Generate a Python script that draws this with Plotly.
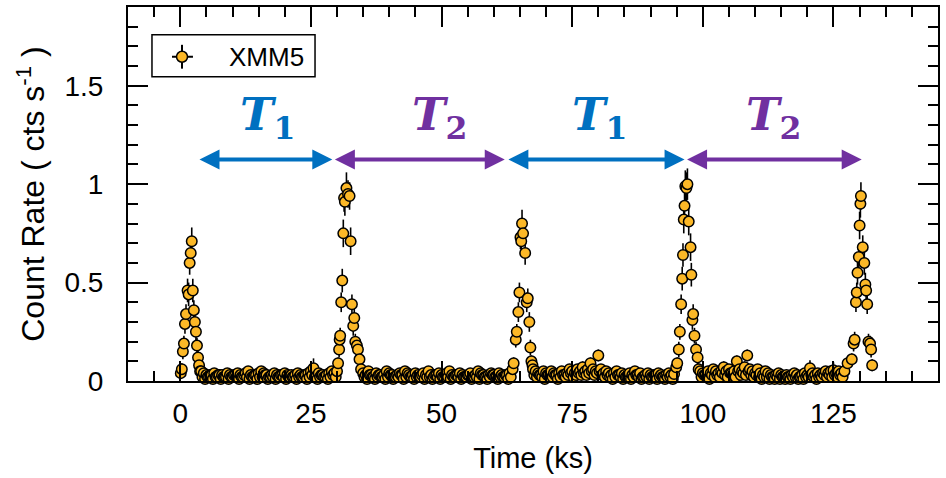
import plotly.graph_objects as go

# ---------------- data (time in ks, count rate in cts/s, 1-sigma error) ----------------
# flare segments
f1_t = [0.1, 0.3, 0.5, 0.7, 0.9, 1.1, 1.4, 1.6, 1.8, 2.0, 2.2, 2.4, 2.6, 2.8, 3.0, 3.2, 3.4, 3.6, 3.8]
f1_r = [0.04, 0.06, 0.15, 0.19, 0.29, 0.34, 0.46, 0.44, 0.60, 0.65, 0.71, 0.46, 0.36, 0.30, 0.25, 0.18, 0.12, 0.08, 0.05]
f1_e = [0.03, 0.03, 0.04, 0.04, 0.05, 0.05, 0.06, 0.06, 0.06, 0.06, 0.07, 0.06, 0.05, 0.05, 0.05, 0.04, 0.04, 0.03, 0.03]

f2_t = [30.0, 30.2, 30.4, 30.5, 30.6, 30.8, 31.0, 31.2, 31.35, 31.5, 31.8, 32.1, 32.4, 32.6, 32.85, 33.1, 33.3, 33.5, 33.8, 34.0, 34.3, 34.6]
f2_r = [0.05, 0.09, 0.16, 0.21, 0.23, 0.40, 0.51, 0.75, 0.93, 0.91, 0.98, 0.95, 0.94, 0.71, 0.39, 0.28, 0.32, 0.20, 0.18, 0.16, 0.11, 0.06]
f2_e = [0.03, 0.03, 0.04, 0.04, 0.04, 0.05, 0.06, 0.07, 0.07, 0.07, 0.08, 0.07, 0.07, 0.07, 0.05, 0.05, 0.05, 0.04, 0.04, 0.04, 0.03, 0.03]

f3_t = [63.6, 63.8, 64.2, 64.4, 64.7, 64.9, 65.1, 65.25, 65.4, 65.6, 66.0, 66.3, 66.5, 66.8, 67.0, 67.2, 67.4]
f3_r = [0.06, 0.09, 0.21, 0.25, 0.35, 0.45, 0.73, 0.71, 0.80, 0.75, 0.65, 0.40, 0.42, 0.30, 0.17, 0.10, 0.08]
f3_e = [0.03, 0.03, 0.04, 0.04, 0.05, 0.05, 0.06, 0.06, 0.07, 0.06, 0.06, 0.05, 0.05, 0.05, 0.04, 0.03, 0.03]

f4_t = [94.5, 94.9, 95.1, 95.4, 95.6, 95.85, 96.05, 96.2, 96.35, 96.5, 96.65, 96.85, 97.05, 97.3, 97.65, 97.8, 98.0, 98.15, 98.4, 98.7, 99.0, 99.2]
f4_r = [0.035, 0.07, 0.09, 0.16, 0.25, 0.39, 0.52, 0.64, 0.82, 0.89, 0.99, 0.98, 1.00, 0.81, 0.68, 0.54, 0.31, 0.34, 0.23, 0.16, 0.12, 0.06]
f4_e = [0.02, 0.03, 0.03, 0.04, 0.04, 0.05, 0.06, 0.06, 0.07, 0.07, 0.08, 0.08, 0.08, 0.07, 0.07, 0.06, 0.05, 0.05, 0.04, 0.04, 0.04, 0.03]

f5_t = [127.1, 127.7, 128.5, 128.85, 129.05, 129.3, 129.45, 129.6, 129.85, 130.0, 130.15, 130.25, 130.6, 130.9, 131.1, 131.25, 131.45, 131.7, 132.0, 132.2, 132.4]
f5_r = [0.05, 0.09, 0.11, 0.19, 0.21, 0.40, 0.45, 0.55, 0.63, 0.79, 0.90, 0.94, 0.68, 0.60, 0.49, 0.46, 0.39, 0.20, 0.19, 0.16, 0.08]
f5_e = [0.03, 0.03, 0.03, 0.04, 0.04, 0.05, 0.05, 0.06, 0.06, 0.07, 0.07, 0.07, 0.06, 0.06, 0.06, 0.05, 0.05, 0.04, 0.04, 0.04, 0.03]

# quiescent segments, 0.5 ks bins starting at the given time
bin_ks = 0.5
q1_start = 4.0
q1_r = [0.05, 0.04, 0.03, 0.02, 0.03, 0.04, 0.02, 0.03, 0.03, 0.02,
        0.04, 0.03, 0.02, 0.03, 0.04, 0.03, 0.02, 0.04, 0.05, 0.03,
        0.02, 0.03, 0.04, 0.05, 0.04, 0.03, 0.02, 0.03, 0.04, 0.03,
        0.02, 0.03, 0.04, 0.03, 0.02, 0.02, 0.03, 0.04, 0.03, 0.02,
        0.03, 0.04, 0.05, 0.065, 0.02, 0.04, 0.03, 0.02, 0.03, 0.04,
        0.05, 0.04]
q1_e = [0.02, 0.02, 0.02, 0.015, 0.02, 0.02, 0.015, 0.02, 0.02, 0.015,
        0.02, 0.02, 0.015, 0.02, 0.02, 0.02, 0.015, 0.02, 0.02, 0.02,
        0.015, 0.02, 0.02, 0.02, 0.02, 0.02, 0.015, 0.02, 0.02, 0.02,
        0.015, 0.02, 0.02, 0.02, 0.015, 0.015, 0.02, 0.02, 0.02, 0.015,
        0.02, 0.02, 0.02, 0.05, 0.015, 0.02, 0.02, 0.015, 0.02, 0.02,
        0.02, 0.02]
q1b_start = 4.25
q1b_r = [0.02, 0.01, 0.02, 0.03, 0.01, 0.02, 0.03, 0.01, 0.02, 0.02,
         0.01, 0.02, 0.03, 0.02, 0.01, 0.02, 0.03, 0.02, 0.01, 0.02,
         0.03, 0.01, 0.02, 0.02, 0.03, 0.01, 0.02, 0.02, 0.01, 0.02,
         0.03, 0.02, 0.01, 0.02, 0.03, 0.02, 0.01, 0.02, 0.02, 0.03,
         0.01, 0.02, 0.03, 0.02, 0.01, 0.02, 0.03, 0.02, 0.01, 0.02,
         0.03, 0.02]
q1b_e = [0.015, 0.01, 0.015, 0.015, 0.01, 0.015, 0.015, 0.01, 0.015, 0.015,
         0.01, 0.015, 0.015, 0.015, 0.01, 0.015, 0.015, 0.015, 0.01, 0.015,
         0.015, 0.01, 0.015, 0.015, 0.015, 0.01, 0.015, 0.015, 0.01, 0.015,
         0.015, 0.015, 0.01, 0.015, 0.015, 0.015, 0.01, 0.015, 0.015, 0.015,
         0.01, 0.015, 0.015, 0.015, 0.01, 0.015, 0.015, 0.015, 0.01, 0.015,
         0.015, 0.015]

q2_start = 35.0
q2_r = [0.04, 0.03, 0.05, 0.03, 0.02, 0.04, 0.03, 0.02, 0.03, 0.05,
        0.04, 0.03, 0.02, 0.03, 0.04, 0.03, 0.05, 0.04, 0.02, 0.03,
        0.04, 0.03, 0.02, 0.04, 0.03, 0.05, 0.03, 0.02, 0.03, 0.04,
        0.03, 0.02, 0.04, 0.05, 0.03, 0.02, 0.03, 0.04, 0.03, 0.02,
        0.03, 0.04, 0.02, 0.03, 0.05, 0.04, 0.03, 0.02, 0.03, 0.04,
        0.03, 0.02, 0.04, 0.03, 0.02, 0.03, 0.04]
q2_e = [0.02, 0.02, 0.02, 0.02, 0.015, 0.02, 0.02, 0.015, 0.02, 0.02,
        0.02, 0.02, 0.015, 0.02, 0.02, 0.02, 0.02, 0.02, 0.015, 0.02,
        0.02, 0.02, 0.015, 0.02, 0.02, 0.02, 0.02, 0.015, 0.02, 0.02,
        0.02, 0.015, 0.02, 0.02, 0.02, 0.015, 0.02, 0.02, 0.02, 0.015,
        0.02, 0.02, 0.015, 0.02, 0.02, 0.02, 0.02, 0.015, 0.02, 0.02,
        0.02, 0.015, 0.02, 0.02, 0.015, 0.02, 0.02]
q2b_start = 35.25
q2b_r = [0.02, 0.01, 0.03, 0.02, 0.01, 0.02, 0.03, 0.02, 0.01, 0.02,
         0.03, 0.01, 0.02, 0.02, 0.03, 0.01, 0.02, 0.03, 0.02, 0.01,
         0.02, 0.02, 0.03, 0.01, 0.02, 0.02, 0.01, 0.03, 0.02, 0.01,
         0.02, 0.03, 0.02, 0.01, 0.02, 0.03, 0.02, 0.01, 0.02, 0.02,
         0.03, 0.01, 0.02, 0.02, 0.01, 0.03, 0.02, 0.01, 0.02, 0.03,
         0.02, 0.01, 0.02, 0.02, 0.03, 0.01, 0.02]
q2b_e = [0.015, 0.01, 0.015, 0.015, 0.01, 0.015, 0.015, 0.015, 0.01, 0.015,
         0.015, 0.01, 0.015, 0.015, 0.015, 0.01, 0.015, 0.015, 0.015, 0.01,
         0.015, 0.015, 0.015, 0.01, 0.015, 0.015, 0.01, 0.015, 0.015, 0.01,
         0.015, 0.015, 0.015, 0.01, 0.015, 0.015, 0.015, 0.01, 0.015, 0.015,
         0.015, 0.01, 0.015, 0.015, 0.01, 0.015, 0.015, 0.01, 0.015, 0.015,
         0.015, 0.01, 0.015, 0.015, 0.015, 0.01, 0.015]

q3_start = 67.5
q3_r = [0.06, 0.05, 0.04, 0.03, 0.05, 0.04, 0.03, 0.05, 0.04, 0.03,
        0.04, 0.05, 0.03, 0.04, 0.06, 0.05, 0.04, 0.06, 0.05, 0.07,
        0.05, 0.06, 0.09, 0.06, 0.05, 0.13, 0.06, 0.04, 0.05, 0.04,
        0.03, 0.04, 0.05, 0.03, 0.04, 0.03, 0.02, 0.04, 0.03, 0.05,
        0.03, 0.04, 0.02, 0.03, 0.04, 0.03, 0.02, 0.03, 0.04, 0.03,
        0.02, 0.03, 0.04, 0.03]
q3_e = [0.02, 0.02, 0.02, 0.02, 0.02, 0.02, 0.02, 0.02, 0.02, 0.02,
        0.02, 0.02, 0.02, 0.02, 0.02, 0.02, 0.02, 0.02, 0.02, 0.03,
        0.02, 0.02, 0.03, 0.02, 0.02, 0.03, 0.02, 0.02, 0.02, 0.02,
        0.02, 0.02, 0.02, 0.02, 0.02, 0.02, 0.015, 0.02, 0.02, 0.02,
        0.02, 0.02, 0.015, 0.02, 0.02, 0.02, 0.015, 0.02, 0.02, 0.02,
        0.015, 0.02, 0.02, 0.02]
q3b_start = 67.75
q3b_r = [0.03, 0.02, 0.03, 0.02, 0.01, 0.03, 0.02, 0.02, 0.03, 0.01,
         0.02, 0.03, 0.02, 0.03, 0.04, 0.02, 0.03, 0.04, 0.03, 0.04,
         0.03, 0.04, 0.05, 0.03, 0.04, 0.05, 0.03, 0.02, 0.03, 0.02,
         0.01, 0.02, 0.03, 0.02, 0.01, 0.02, 0.02, 0.01, 0.02, 0.03,
         0.02, 0.01, 0.02, 0.02, 0.01, 0.02, 0.03, 0.01, 0.02, 0.02,
         0.01, 0.02, 0.02, 0.01]
q3b_e = [0.015, 0.015, 0.015, 0.015, 0.01, 0.015, 0.015, 0.015, 0.015, 0.01,
         0.015, 0.015, 0.015, 0.015, 0.02, 0.015, 0.015, 0.02, 0.015, 0.02,
         0.015, 0.02, 0.02, 0.015, 0.02, 0.02, 0.015, 0.015, 0.015, 0.015,
         0.01, 0.015, 0.015, 0.015, 0.01, 0.015, 0.015, 0.01, 0.015, 0.015,
         0.015, 0.01, 0.015, 0.015, 0.01, 0.015, 0.015, 0.01, 0.015, 0.015,
         0.01, 0.015, 0.015, 0.01]

q4_start = 99.5
q4_r = [0.05, 0.04, 0.03, 0.05, 0.04, 0.06, 0.05, 0.04, 0.05, 0.07,
        0.05, 0.06, 0.04, 0.05, 0.10, 0.06, 0.05, 0.07, 0.13, 0.06,
        0.05, 0.04, 0.06, 0.04, 0.03, 0.05, 0.04, 0.03, 0.02, 0.03,
        0.04, 0.03, 0.02, 0.03, 0.02, 0.03, 0.04, 0.03, 0.02, 0.03,
        0.04, 0.03, 0.065, 0.04, 0.03, 0.04, 0.03, 0.04, 0.05, 0.04,
        0.05, 0.055, 0.04, 0.05, 0.04]
q4_e = [0.02, 0.02, 0.02, 0.02, 0.02, 0.02, 0.02, 0.02, 0.02, 0.03,
        0.02, 0.02, 0.02, 0.02, 0.03, 0.02, 0.02, 0.03, 0.03, 0.02,
        0.02, 0.02, 0.02, 0.02, 0.02, 0.02, 0.02, 0.02, 0.015, 0.02,
        0.02, 0.02, 0.015, 0.02, 0.015, 0.02, 0.02, 0.02, 0.015, 0.02,
        0.02, 0.02, 0.04, 0.02, 0.02, 0.02, 0.02, 0.02, 0.02, 0.02,
        0.02, 0.04, 0.02, 0.02, 0.02]
q4b_start = 99.75
q4b_r = [0.02, 0.03, 0.02, 0.01, 0.03, 0.02, 0.03, 0.02, 0.04, 0.03,
         0.02, 0.04, 0.03, 0.02, 0.05, 0.03, 0.04, 0.03, 0.05, 0.03,
         0.02, 0.03, 0.02, 0.01, 0.02, 0.02, 0.01, 0.02, 0.01, 0.02,
         0.01, 0.02, 0.01, 0.02, 0.01, 0.02, 0.02, 0.01, 0.02, 0.01,
         0.02, 0.02, 0.03, 0.02, 0.01, 0.02, 0.02, 0.03, 0.02, 0.03,
         0.02, 0.03, 0.02, 0.03, 0.02]
q4b_e = [0.015, 0.015, 0.015, 0.01, 0.015, 0.015, 0.015, 0.015, 0.02, 0.015,
         0.015, 0.02, 0.015, 0.015, 0.02, 0.015, 0.02, 0.015, 0.02, 0.015,
         0.015, 0.015, 0.015, 0.01, 0.015, 0.015, 0.01, 0.015, 0.01, 0.015,
         0.01, 0.015, 0.01, 0.015, 0.01, 0.015, 0.015, 0.01, 0.015, 0.01,
         0.015, 0.015, 0.015, 0.015, 0.01, 0.015, 0.015, 0.015, 0.015, 0.015,
         0.015, 0.015, 0.015, 0.015, 0.015]

series_name = "XMM5"

# period markers: (arrow start ks, arrow end ks, label centre ks, subscript, colour)
periods = [(3.4, 29.1, 16.6, "1", "#0070C0"),
           (29.3, 62.1, 49.7, "2", "#7030A0"),
           (62.5, 96.5, 80.3, "1", "#0070C0"),
           (96.7, 130.4, 113.6, "2", "#7030A0")]

# ---------------- assemble ----------------
t_all, r_all, e_all = [], [], []
for ft, fr, fe in [(f1_t, f1_r, f1_e), (f2_t, f2_r, f2_e), (f3_t, f3_r, f3_e),
                   (f4_t, f4_r, f4_e), (f5_t, f5_r, f5_e)]:
    assert len(ft) == len(fr) == len(fe)
    t_all += ft; r_all += fr; e_all += fe
for start, qr, qe in [(q1_start, q1_r, q1_e), (q2_start, q2_r, q2_e),
                      (q3_start, q3_r, q3_e), (q4_start, q4_r, q4_e),
                      (q1b_start, q1b_r, q1b_e), (q2b_start, q2b_r, q2b_e),
                      (q3b_start, q3b_r, q3b_e), (q4b_start, q4b_r, q4b_e)]:
    assert len(qr) == len(qe)
    t_all += [start + bin_ks * i for i in range(len(qr))]
    r_all += qr; e_all += qe

order = sorted(range(len(t_all)), key=lambda i: t_all[i])
t_all = [t_all[i] for i in order]
r_all = [r_all[i] for i in order]
e_all = [e_all[i] for i in order]

MARK = "#FCB827"
fig = go.Figure()
fig.add_trace(go.Scatter(
    x=t_all, y=r_all, mode="markers", name=series_name,
    error_y=dict(type="data", array=e_all, color="black", thickness=1.6, width=0),
    marker=dict(size=10.5, color=MARK, line=dict(color="black", width=1.5)),
    cliponaxis=False, showlegend=False,
))

ann = []
shapes = []
for x0, x1, xl, sub, col in periods:
    ann.append(dict(x=x1, y=1.125, ax=x0, ay=1.125, xref="x", yref="y", axref="x", ayref="y",
                    text="", showarrow=True, arrowhead=2, startarrowhead=2, arrowside="end+start",
                    arrowwidth=4, arrowsize=1, startarrowsize=1, arrowcolor=col,
                    standoff=0, startstandoff=0))
    ann.append(dict(x=xl, y=1.34, xref="x", yref="y", showarrow=False,
                    text="<b><i>T</i><sub>%s</sub></b>" % sub,
                    font=dict(family="DejaVu Serif", size=45, color=col),
                    xanchor="center", yanchor="middle"))

# legend (custom box with error-bar cross symbol)
shapes.append(dict(type="rect", xref="paper", yref="paper", x0=0.0296, x1=0.2309, y0=0.8138, y1=0.9255,
                   line=dict(color="black", width=1.5), fillcolor="white", layer="above"))
shapes.append(dict(type="line", xref="paper", yref="paper", x0=0.0543, x1=0.0802, y0=0.867, y1=0.867,
                   line=dict(color="black", width=2), layer="above"))
shapes.append(dict(type="line", xref="paper", yref="paper", x0=0.0667, x1=0.0667, y0=0.8351, y1=0.8989,
                   line=dict(color="black", width=2), layer="above"))
shapes.append(dict(type="circle", xref="paper", yref="paper", xsizemode="pixel", ysizemode="pixel",
                   xanchor=0.0667, yanchor=0.867, x0=-5.5, x1=5.5, y0=-5.5, y1=5.5,
                   fillcolor=MARK, line=dict(color="black", width=1.5), layer="above"))
ann.append(dict(x=0.1222, y=0.867, xref="paper", yref="paper", text=series_name, showarrow=False,
                xanchor="left", yanchor="middle", font=dict(family="Liberation Sans", size=26, color="black")))

axis_common = dict(
    ticks="inside", ticklen=20, tickwidth=2, tickcolor="black",
    showline=True, linewidth=2, linecolor="black", mirror="ticks",
    showgrid=False, zeroline=False,
    tickfont=dict(family="Liberation Sans", size=28, color="black"),
)

fig.update_layout(
    width=946, height=478,
    margin=dict(l=128, r=8, t=5, b=97),
    plot_bgcolor="white", paper_bgcolor="white",
    font=dict(family="Liberation Sans", color="black"),
    showlegend=False,
    xaxis=dict(range=[-10, 145], tick0=0, dtick=25,
               minor=dict(dtick=5, ticklen=10, tickwidth=2, tickcolor="black", ticks="inside"),
               title=dict(text="Time (ks)", font=dict(family="Liberation Sans", size=29), standoff=20),
               ticklabelstandoff=6,
               **axis_common),
    yaxis=dict(range=[0, 1.9], tick0=0, dtick=0.5,
               minor=dict(dtick=0.1, ticklen=10, tickwidth=2, tickcolor="black", ticks="inside"),
               title=dict(text="Count Rate ( cts s<sup>-1</sup> )", font=dict(family="Liberation Sans", size=32), standoff=10),
               ticklabelstandoff=17,
               **axis_common),
    annotations=ann,
    shapes=shapes,
)

fig.write_html("out.html")
